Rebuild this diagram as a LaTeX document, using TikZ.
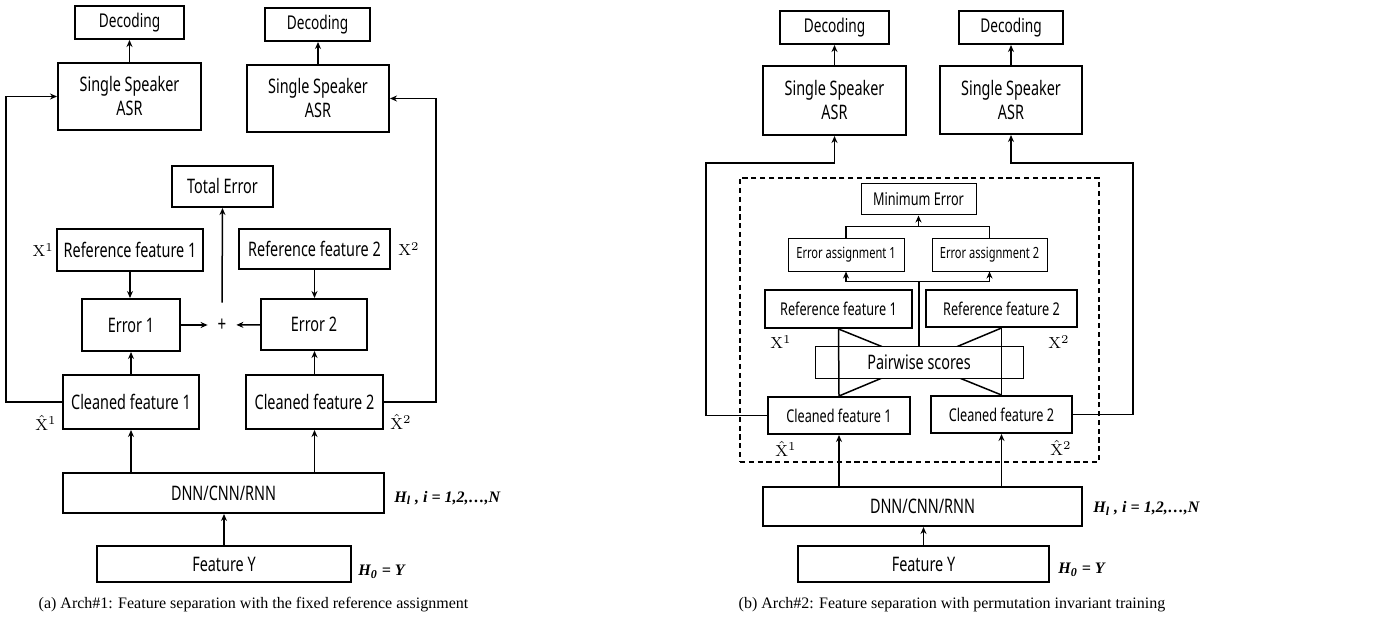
\documentclass[tikz,border=0pt]{standalone}
\usepackage{amsmath}
\usepackage{fontspec}
\usetikzlibrary{arrows.meta,positioning}
\newfontfamily\boxfont{Noto Sans}[FakeStretch=0.72]
\newfontfamily\capfont{Liberation Serif}
\newcommand{\layerlabel}{H\textsubscript{l} , i = 1,2,\ldots,N}
\newcommand{\inputlabel}{H\textsubscript{0} = Y}

\begin{document}
\begin{tikzpicture}[x=0.5pt, y=-0.5pt,
    block/.style={draw, line width=1pt, inner sep=0pt, align=center, font=\boxfont\fontsize{10}{12}\selectfont},
    thinbox/.style={draw, line width=0.5pt, inner sep=0pt, fill=white, align=center, font=\boxfont\fontsize{8.8}{10}\selectfont},
    dims/.style 2 args={minimum width=#1, minimum height=#2},
    arrow/.style={-{Stealth[length=3.5pt,width=3pt]}, line width=0.75pt},
    line/.style={line width=0.75pt},
    frame/.style={draw, dashed, dash pattern=on 2.6pt off 1.8pt, line width=0.7pt, inner sep=0pt},
    mathlabel/.style={inner sep=0pt, font=\fontsize{8}{9}\selectfont},
    hlabel/.style={inner sep=0pt, font=\capfont\bfseries\itshape\fontsize{8}{9}\selectfont},
    captext/.style={inner sep=0pt, font=\capfont\fontsize{8}{10}\selectfont}]
    \useasboundingbox (0,0) rectangle (1380,620);

    % (a) fixed reference assignment
    \node[block, dims={54.5pt}{16.5pt}, font=\boxfont\fontsize{9.5}{11}\selectfont] (decL1) at (129.5,22.5) {Decoding};
    \node[block, dims={52.5pt}{16.5pt}, font=\boxfont\fontsize{9.5}{11}\selectfont] (decL2) at (317.5,24.5) {Decoding};
    \node[block, dims={71.5pt}{33.5pt}] (asrL1) at (129.5,96.5) {Single Speaker\\ASR};
    \node[block, dims={71pt}{33.5pt}] (asrL2) at (318,98.5) {Single Speaker\\ASR};
    \node[block, dims={50.5pt}{20.5pt}] (totL) at (222.5,186.5) {Total Error};
    \node[block, dims={73pt}{21pt}] (refL1) at (130,250) {Reference feature 1};
    \node[block, dims={75.5pt}{20pt}] (refL2) at (314.5,249) {Reference feature 2};
    \node[block, dims={49pt}{26pt}] (errL1) at (131,325) {Error 1};
    \node[block, dims={53pt}{25.5pt}] (errL2) at (314,324.5) {Error 2};
    \node[inner sep=0pt, minimum width=14pt, minimum height=22pt, font=\boxfont\fontsize{10.5}{12}\selectfont] (plusL) at (222,325) {+};
    \node[block, dims={68pt}{27pt}] (clnL1) at (131,402) {Cleaned feature 1};
    \node[block, dims={68.5pt}{27pt}] (clnL2) at (314.5,402) {Cleaned feature 2};
    \node[block, dims={160.5pt}{20pt}] (dnnL) at (223.5,493) {DNN/CNN/RNN};
    \node[block, dims={127pt}{18pt}] (featL) at (224,564) {Feature Y};

    \node[mathlabel, left=1pt of refL1] (xL1) {$\mathrm{X}^1$};
    \node[mathlabel, right=3.5pt of refL2] (xL2) {$\mathrm{X}^2$};
    \node[mathlabel] (xhL1) at (46,423) {$\hat{\mathrm{X}}^1$};
    \node[mathlabel] (xhL2) at (401,422) {$\hat{\mathrm{X}}^2$};
    \node[hlabel, right=4.5pt of dnnL, yshift=-2.5pt] (hlL) {\layerlabel};
    \node[hlabel, right=3pt of featL, yshift=-4pt] (h0L) {\inputlabel};

    \draw[arrow] (asrL1.north) -- (asrL1.north |- decL1.south);
    \draw[arrow] (asrL2.north) -- (asrL2.north |- decL2.south);
    \draw[arrow] (refL1.south) -- (refL1.south |- errL1.north);
    \draw[arrow] (refL2.south) -- (refL2.south |- errL2.north);
    \draw[arrow] (clnL1.north) -- (clnL1.north |- errL1.south);
    \draw[arrow] (clnL2.north) -- (clnL2.north |- errL2.south);
    \draw[arrow] (errL1) -- (plusL);
    \draw[arrow] (errL2) -- (plusL);
    \draw[arrow] (plusL.north) -- (totL.south);
    \draw[arrow] (dnnL.north -| clnL1.south) -- (clnL1.south);
    \draw[arrow] (dnnL.north -| clnL2.south) -- (clnL2.south);
    \draw[arrow] (featL.north) -- (featL.north |- dnnL.south);
    \draw[arrow] (clnL1.west) -- ++(-56,0) |- (asrL1.west);
    \draw[arrow] (clnL2.east) -- ++(52,0) |- (asrL2.east);

    % (b) permutation invariant training
    \node[block, dims={54.5pt}{16.5pt}, font=\boxfont\fontsize{9.5}{11}\selectfont] (decR1) at (834.5,27.5) {Decoding};
    \node[block, dims={52pt}{16.5pt}, font=\boxfont\fontsize{9.5}{11}\selectfont] (decR2) at (1011,27.5) {Decoding};
    \node[block, dims={71.5pt}{34.5pt}] (asrR1) at (834.5,100.5) {Single Speaker\\ASR};
    \node[block, dims={71pt}{34pt}] (asrR2) at (1011,100) {Single Speaker\\ASR};
    \node[frame, dims={179.5pt}{142pt}] (pitR) at (919.5,320) {};
    \node[thinbox, dims={57.5pt}{15.5pt}] (minR) at (918.5,199.5) {Minimum Error};
    \node[thinbox, dims={58pt}{16pt}, font=\boxfont\fontsize{7.7}{9}\selectfont] (eaR1) at (846,255) {Error assignment 1};
    \node[thinbox, dims={57.5pt}{16pt}, font=\boxfont\fontsize{7.7}{9}\selectfont] (eaR2) at (989.5,255) {Error assignment 2};
    \node[block, dims={73.5pt}{19pt}, font=\boxfont\fontsize{8.8}{10}\selectfont] (refR1) at (838.5,309) {Reference feature 1};
    \node[block, dims={75.5pt}{18.5pt}, font=\boxfont\fontsize{8.8}{10}\selectfont] (refR2) at (1001.5,308.5) {Reference feature 2};
    \node[block, dims={71pt}{18.5pt}, font=\boxfont\fontsize{8.8}{10}\selectfont] (clnR1) at (839,415.5) {Cleaned feature 1};
    \node[block, dims={70.5pt}{18.5pt}, font=\boxfont\fontsize{8.8}{10}\selectfont] (clnR2) at (1001.5,414.5) {Cleaned feature 2};
    \node[block, dims={159.5pt}{19.5pt}] (dnnR) at (922.5,506.5) {DNN/CNN/RNN};
    \node[block, dims={125.5pt}{18pt}] (featR) at (923.5,564) {Feature Y};

    \draw[line] (refR1.south) -- (clnR2.north);
    \draw[line] (refR2.south) -- (clnR1.north);
    \node[thinbox, dims={104pt}{16pt}, font=\boxfont\fontsize{10}{12}\selectfont] (pairR) at (919,362) {Pairwise scores};
    \draw[line] (refR1.south) -- (clnR1.north);
    \draw[line] (refR2.south) -- (clnR2.north);

    \node[mathlabel] (xR1) at (781,342) {$\mathrm{X}^1$};
    \node[mathlabel] (xR2) at (1059,342) {$\mathrm{X}^2$};
    \node[mathlabel] (xhR1) at (786,449) {$\hat{\mathrm{X}}^1$};
    \node[mathlabel] (xhR2) at (1061,448) {$\hat{\mathrm{X}}^2$};
    \node[hlabel, right=5pt of dnnR, yshift=-1pt] (hlR) {\layerlabel};
    \node[hlabel, right=4pt of featR, yshift=-3pt] (h0R) {\inputlabel};

    \draw[line] (eaR1.north) -- ++(0,-12) coordinate (cA) -| (eaR2.north);
    \draw[arrow] (cA -| minR.south) -- (minR.south);
    \draw[line] (pairR.north) -- ++(0,-64) coordinate (cB);
    \draw[arrow] (cB) -| (eaR1.south);
    \draw[arrow] (cB) -| (eaR2.south);
    \draw[arrow] (asrR1.north) -- (asrR1.north |- decR1.south);
    \draw[arrow] (asrR2.north) -- (asrR2.north |- decR2.south);
    \draw[arrow] (dnnR.north -| clnR1.south) -- (clnR1.south);
    \draw[arrow] (dnnR.north -| clnR2.south) -- (clnR2.south);
    \draw[arrow] (featR.north) -- (featR.north |- dnnR.south);
    \draw[arrow] (clnR1.west) -- ++(-61,0) |- ([yshift=-13.5pt]asrR1.south) -- (asrR1.south);
    \draw[arrow] (clnR2.east) -- ++(60,0) |- ([yshift=-14pt]asrR2.south) -- (asrR2.south);

    % captions
    \node[captext] (capA) at (253.5,605) {(a) Arch\#1: Feature separation with the fixed reference assignment};
    \node[captext] (capB) at (952,605) {(b) Arch\#2: Feature separation with permutation invariant training};
\end{tikzpicture}
\end{document}
